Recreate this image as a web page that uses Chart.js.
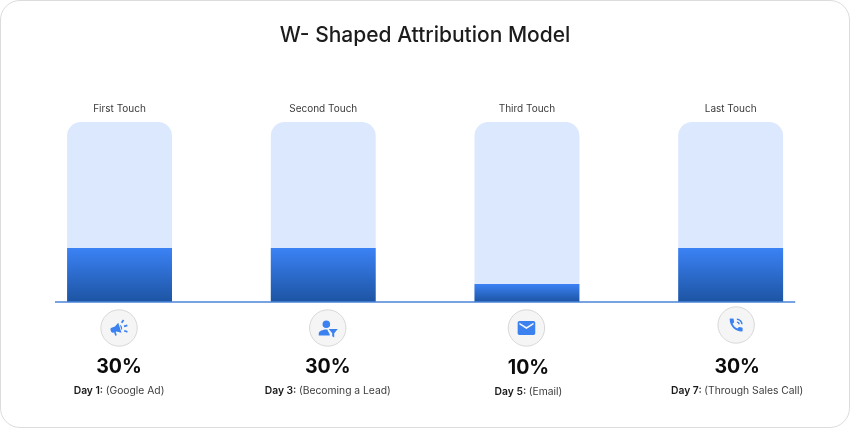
<!DOCTYPE html>
<html>
<head>
<meta charset="utf-8">
<style>
  html, body { margin: 0; padding: 0; background: #fff; }
  #card {
    position: relative; width: 850px; height: 428px; box-sizing: border-box;
    border: 1px solid #dcdcdc; border-radius: 20px; overflow: hidden; background: #fff;
  }
  #frame { position: absolute; left: -1px; top: -1px; width: 850px; height: 428px; }
</style>
<script src="https://cdn.jsdelivr.net/npm/chart.js@4"></script>
</head>
<body>
<div id="card"><div id="frame"><canvas id="chart" width="850" height="428"></canvas></div></div>
<script>
const chartTitle = 'W- Shaped Attribution Model';
const touches = ['First Touch', 'Second Touch', 'Third Touch', 'Last Touch'];
const credit = [30, 30, 10, 30];
const full = [100, 100, 100, 100];
const percentLabels = ['30%', '30%', '10%', '30%'];
const dayLabels = ['Day 1:', 'Day 3:', 'Day 5:', 'Day 7:'];
const channelLabels = ['(Google Ad)', '(Becoming a Lead)', '(Email)', '(Through Sales Call)'];

// Caption block placement under each bar, relative to the bar centre
const captionShiftX = [-0.5, 4.5, 1.5, 6.5];
const captionShiftY = [0, 0, 1, 0];
const iconShiftX = [-0.5, 4.5, -0.5, 5.5];
const iconShiftY = [0, 0, 0, -3];

const FONT = 'Inter, "Noto Sans", sans-serif';
const BLUE = '#3b82f0';

// 24-unit Material-style glyphs
const glyphs = [
  ['M18 11v2h4v-2h-4zm-2 6.61c.96.71 2.21 1.65 3.2 2.39.4-.53.8-1.07 1.2-1.6-.99-.74-2.24-1.68-3.2-2.4-.4.54-.8 1.08-1.2 1.61zM20.4 5.6c-.4-.53-.8-1.07-1.2-1.6-.99.74-2.24 1.68-3.2 2.4.4.53.8 1.07 1.2 1.6.96-.72 2.21-1.65 3.2-2.4zM4 9c-1.1 0-2 .9-2 2v2c0 1.1.9 2 2 2h1v4h2v-4h1l5 3V6L8 9H4zm11.5 3c0-1.33-.58-2.53-1.5-3.35v6.69c.92-.81 1.5-2.01 1.5-3.34z', -18, 0.87],
  ['M10.5 4a4 4 0 1 0 0 8 4 4 0 0 0 0-8zM10.5 13.5c-3.6 0-8 1.7-8 4.2V20h11.6v-1.2l-2.6-5.2c-.35-.06-.68-.1-1-.1zM13 13h9.5l-3.7 4.6V22l-2.1-1.3v-3.1z', 0, 0.95],
  ['M20 4H4c-1.1 0-1.99.9-1.99 2L2 18c0 1.1.9 2 2 2h16c1.1 0 2-.9 2-2V6c0-1.1-.9-2-2-2zm0 4l-8 5-8-5V6l8 5 8-5v2z', 0, 0.88],
  ['M20.01 15.38c-1.23 0-2.42-.2-3.53-.56-.35-.12-.74-.03-1.01.24l-1.57 1.97c-2.83-1.35-5.48-3.9-6.89-6.83l1.95-1.66c.27-.28.35-.67.24-1.02-.37-1.11-.56-2.3-.56-3.53 0-.54-.45-.99-.99-.99H4.19C3.65 3 3 3.24 3 3.99 3 13.28 10.73 21 20.01 21c.71 0 .99-.63.99-1.18v-3.45c0-.54-.45-.99-.99-.99zM13 3v2a6 6 0 0 1 6 6h2a8 8 0 0 0-8-8zm0 4v2a2 2 0 0 1 2 2h2a4 4 0 0 0-4-4z', 0, 0.72]
];

// Baseline plus the icon, percentage and day caption under each bar
const captions = {
  id: 'captions',
  afterDatasetsDraw(chart) {
    const { ctx, scales } = chart;
    const base = scales.y.getPixelForValue(0);
    const step = scales.x.getPixelForValue(1) - scales.x.getPixelForValue(0);
    ctx.save();
    ctx.strokeStyle = '#4a84d8';
    ctx.lineWidth = 1.3;
    ctx.beginPath();
    ctx.moveTo(scales.x.getPixelForValue(0) - step * 0.317, base);
    ctx.lineTo(scales.x.getPixelForValue(3) + step * 0.317, base);
    ctx.stroke();

    touches.forEach((_, i) => {
      const barX = scales.x.getPixelForValue(i);
      const cx = barX + captionShiftX[i];
      const ix = barX + iconShiftX[i];
      const iy = base + 26 + iconShiftY[i];

      ctx.beginPath();
      ctx.arc(ix, iy, 18.2, 0, Math.PI * 2);
      ctx.fillStyle = '#f5f5f6';
      ctx.fill();
      ctx.strokeStyle = '#cfcfcf';
      ctx.lineWidth = 0.8;
      ctx.stroke();

      const [path, angle, scale] = glyphs[i];
      ctx.save();
      ctx.translate(ix, iy);
      ctx.rotate(angle * Math.PI / 180);
      ctx.scale(scale, scale);
      ctx.translate(-12, -12);
      ctx.fillStyle = BLUE;
      ctx.fill(new Path2D(path));
      ctx.restore();

      ctx.textBaseline = 'middle';
      ctx.textAlign = 'center';
      ctx.fillStyle = '#0b0b0b';
      ctx.font = '700 19.5px ' + FONT;
      ctx.fillText(percentLabels[i], cx, base + 65.5 + captionShiftY[i]);

      const dayFont = '600 10.3px ' + FONT;
      const channelFont = '400 10.3px ' + FONT;
      ctx.font = dayFont;
      const dw = ctx.measureText(dayLabels[i] + ' ').width;
      ctx.font = channelFont;
      const cw = ctx.measureText(channelLabels[i]).width;
      const start = cx - (dw + cw) / 2;
      const ty = base + 88.5 + captionShiftY[i];
      ctx.textAlign = 'left';
      ctx.font = dayFont;
      ctx.fillStyle = '#1a1a1a';
      ctx.fillText(dayLabels[i], start, ty);
      ctx.font = channelFont;
      ctx.fillStyle = '#3c3c3c';
      ctx.fillText(channelLabels[i], start + dw, ty);
    });
    ctx.restore();
  }
};

new Chart(document.getElementById('chart'), {
  type: 'bar',
  plugins: [captions],
  data: {
    labels: touches,
    datasets: [
      {
        label: 'Credit',
        data: credit,
        order: 1,
        grouped: false,
        barPercentage: 0.515,
        categoryPercentage: 1,
        backgroundColor(c) {
          const { chart, parsed } = c;
          if (!chart.chartArea || !parsed) return BLUE;
          const y = chart.scales.y;
          const g = chart.ctx.createLinearGradient(0, y.getPixelForValue(parsed.y), 0, y.getPixelForValue(0));
          g.addColorStop(0, '#3b82f5');
          g.addColorStop(1, '#1d54a3');
          return g;
        }
      },
      {
        label: 'Total',
        data: full,
        order: 2,
        grouped: false,
        barPercentage: 0.515,
        categoryPercentage: 1,
        backgroundColor: '#dbe8fe',
        borderRadius: { topLeft: 14, topRight: 14, bottomLeft: 0, bottomRight: 0 },
        borderSkipped: false
      }
    ]
  },
  options: {
    responsive: false,
    animation: false,
    layout: { padding: { left: 17.7, right: 17.5, top: 0, bottom: 126 } },
    plugins: {
      legend: { display: false },
      tooltip: { enabled: false },
      title: {
        display: true,
        text: chartTitle,
        color: '#1c1c1c',
        font: { family: FONT, size: 21, weight: '500', lineHeight: 1.2 },
        padding: { top: 23, bottom: 0 }
      }
    },
    scales: {
      x: {
        position: 'top',
        grid: { display: false },
        border: { display: false },
        ticks: { color: '#3a3a3a', font: { family: FONT, size: 10 }, padding: -1, maxRotation: 0, autoSkip: false },
        afterFit(scale) { scale.height = 122 - 23 - 25.2; }
      },
      y: { display: false, min: 0, max: 100 }
    }
  }
});
</script>
</body>
</html>
